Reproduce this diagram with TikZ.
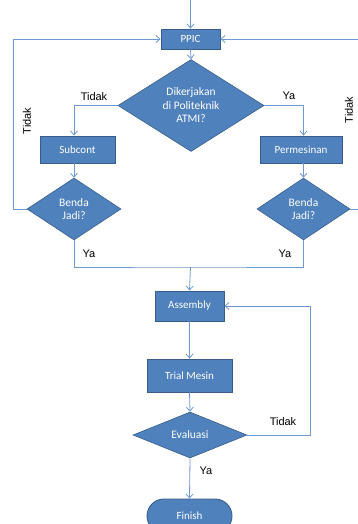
\documentclass[tikz,border=0pt]{standalone}
\usepackage{fontspec}
\setmainfont{Carlito}
\newfontfamily\labfont{Liberation Sans}
\usetikzlibrary{shapes.geometric,shapes.misc,arrows.meta}
\definecolor{nodeblue}{HTML}{4F81BD}
\definecolor{edgeblue}{HTML}{385D8A}
\definecolor{lineblue}{HTML}{6E98CE}
\tikzset{
  box/.style={rectangle,fill=nodeblue,draw=edgeblue,line width=0.9pt,text=white,
    font=\fontsize{11}{13.5}\selectfont,inner sep=0pt,align=center},
  dia/.style={diamond,fill=nodeblue,draw=edgeblue,line width=0.6pt,text=white,
    font=\fontsize{11.5}{13.5}\selectfont,inner sep=0pt,align=center},
  term/.style={rounded rectangle,fill=nodeblue,draw=edgeblue,line width=0.9pt,text=white,
    font=\fontsize{11}{13.5}\selectfont,inner sep=0pt},
  conn/.style={draw=lineblue,line width=0.8pt},
  arr/.style={conn,-{Straight Barb[length=4pt,width=7pt]}},
  lab/.style={font=\labfont\fontsize{11}{13}\selectfont,text=black,inner sep=0pt}
}
\begin{document}
\begin{tikzpicture}[x=1pt,y=-1pt]
\useasboundingbox (0,0) rectangle (358,524);
% nodes
\node[box,minimum width=59pt,minimum height=20pt] (ppic) at (190.5,39) {PPIC};
\node[dia,minimum width=146pt,minimum height=87pt] (main) at (191,105.5) {Dikerjakan\\di Politeknik\\ATMI?};
\node[box,minimum width=75pt,minimum height=27pt] (subcont) at (77.5,149.5) {Subcont};
\node[box,minimum width=82pt,minimum height=27pt] (perm) at (301,149.5) {Permesinan};
\node[dia,minimum width=94pt,minimum height=62pt] (ben1) at (74,209) {Benda\\Jadi?};
\node[dia,minimum width=93pt,minimum height=62pt] (ben2) at (303.5,209) {Benda\\Jadi?};
\node[box,minimum width=69pt,minimum height=30pt] (assembly) at (189.5,306) {Assembly};
\node[box,minimum width=85pt,minimum height=33pt] (trial) at (189.5,375.5) {Trial Mesin};
\node[dia,minimum width=114pt,minimum height=46pt] (eval) at (190,435) {Evaluasi};
\node[term,minimum width=85pt,minimum height=34pt] (finish) at (189.5,516) {Finish};
% helper coordinates
\coordinate (top) at (190.5,-2);
\coordinate (lft) at (13,209);
\coordinate (rgt) at (364,209);
\coordinate (merge) at (190.5,267);
\coordinate (fb) at (310,435);
% connectors
\draw[arr] (top) -- (ppic.north);
\draw[arr] (ppic.south) -- (main.north);
\draw[arr] (main.west) -| (subcont.north -| ben1.north);
\draw[arr] (main.east) -| (perm.north -| ben2.north);
\draw[arr] (subcont.south -| ben1.north) -- (ben1.north);
\draw[arr] (perm.south -| ben2.north) -- (ben2.north);
\draw[arr] (ben1.west) -- (lft) |- (ppic.west);
\draw[arr] (ben2.east) -- (rgt) |- (ppic.east);
\draw[conn] (ben1.south) |- (merge) -| (ben2.south);
\draw[arr] (merge) -- (assembly.north);
\draw[arr] (assembly.south) -- (trial.north);
\draw[arr] (trial.south) -- (eval.north);
\draw[arr] (eval.south) -- (finish.north);
\draw[arr] (eval.east) -- (fb) |- (assembly.east);
% labels
\node[lab] (l1) at (94,97) {Tidak};
\node[lab] (l2) at (289,96) {Ya};
\node[lab,rotate=90] (l3) at (27,121) {Tidak};
\node[lab,rotate=90] (l4) at (349,110) {Tidak};
\node[lab] (l5) at (89,254) {Ya};
\node[lab] (l6) at (285,254) {Ya};
\node[lab] (l7) at (283,422) {Tidak};
\node[lab] (l8) at (206,471) {Ya};
\end{tikzpicture}
\end{document}
